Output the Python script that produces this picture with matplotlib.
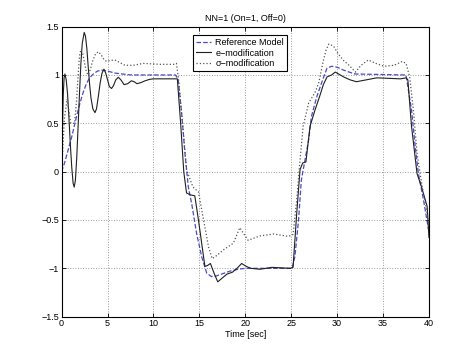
import numpy as np
import matplotlib
matplotlib.use("Agg")
from matplotlib import pyplot as plt

# reference model (blue dashed)
ref_t = [0, 0.35, 0.7, 1.1, 1.45, 1.75, 2.0, 2.35, 2.7, 3.05, 3.45, 3.9, 4.36, 5.0, 5.8, 6.6, 7.6, 12.4,
         12.7, 13.07, 13.43, 13.8, 14.16, 14.7, 15.25, 15.8, 16.3, 16.8, 17.4, 18.3, 19.2, 20.0, 25.1,
         25.4, 25.8, 26.1, 26.5, 26.9, 27.2, 27.8, 28.5, 28.9, 29.4, 30.0, 30.7, 31.3, 31.95, 37.5,
         38.1, 38.5, 38.85, 39.4, 39.9, 40.0]
ref_y = [0, 0.1, 0.22, 0.36, 0.5, 0.62, 0.71, 0.82, 0.91, 0.97, 1.01, 1.04, 1.05, 1.04, 1.02, 1.01, 1.0, 1.0,
         0.95, 0.6, 0.19, -0.16, -0.33, -0.64, -0.88, -1.05, -1.085, -1.08, -1.06, -1.03, -1.01, -1.0, -1.0,
         -0.88, -0.5, -0.09, 0.12, 0.33, 0.57, 0.78, 0.97, 1.07, 1.09, 1.08, 1.05, 1.03, 1.01, 1.0,
         0.64, 0.26, -0.02, -0.29, -0.57, -0.63]

# e-modification (black solid)
e_t = [0, 0.08, 0.18, 0.27, 0.36, 0.5, 0.65, 0.8, 0.95, 1.1, 1.25, 1.37, 1.5, 1.65, 1.8, 1.95,
       2.1, 2.25, 2.46, 2.6, 2.75, 2.9, 3.05, 3.2, 3.4, 3.63, 3.8, 4.0, 4.2, 4.4, 4.61, 4.8,
       5.0, 5.2, 5.44, 5.65, 5.9, 6.17, 6.45, 6.8, 7.2, 7.6, 7.9, 8.2, 8.6, 9.1, 9.6, 10.0, 12.6,
       12.96, 13.3, 13.6, 14.0, 14.5, 14.9, 15.6, 15.9, 16.2, 16.6, 17.0, 17.5, 18.0, 18.6,
       19.1, 19.6, 20.1, 20.6, 21.6, 22.9, 24.9, 25.2,
       25.6, 25.96, 26.25, 26.6, 27.05, 27.6, 28.1, 28.5, 28.9, 29.4, 29.8, 30.7, 31.4, 32.1,
       33.2, 34.3, 36.9, 37.5, 37.7, 38.1, 38.7, 39.2, 39.8, 40.0]
e_y = [0, 0.4, 0.8, 0.97, 1.01, 0.95, 0.8, 0.55, 0.28, 0.05, -0.12, -0.16, -0.09, 0.15, 0.48, 0.82,
       1.12, 1.33, 1.44, 1.40, 1.27, 1.08, 0.9, 0.76, 0.65, 0.61, 0.65, 0.78, 0.92, 1.02, 1.06, 1.02,
       0.95, 0.88, 0.86, 0.89, 0.95, 0.976, 0.95, 0.90, 0.91, 0.94, 0.93, 0.91, 0.92, 0.94, 0.955, 0.96, 0.96,
       0.5, 0.0, -0.22, -0.24, -0.25, -0.5, -0.98, -0.97, -0.95, -1.05, -1.14, -1.1, -1.06, -1.04,
       -1.0, -0.95, -0.98, -1.0, -1.01, -0.99, -1.0, -0.99,
       -0.43, 0.02, 0.09, 0.10, 0.47, 0.64, 0.78, 0.9, 0.98, 1.0, 1.03, 0.98, 0.95, 0.93,
       0.95, 0.97, 0.96, 0.97, 0.95, 0.47, -0.02, -0.16, -0.36, -0.68]

# sigma-modification (gray dotted)
s_t = [0, 0.3, 0.6, 1.0, 1.4, 1.6, 1.8, 1.95, 2.1, 2.3, 2.5, 2.7, 2.9, 3.1, 3.4, 3.7, 4.0,
       4.3, 4.6, 4.9, 5.3, 5.8, 6.3, 6.9, 7.8, 8.9, 10.7, 12.2, 12.5,
       12.7, 13.2, 13.6, 14.3, 14.9, 15.4, 16.0, 16.4, 17.0, 17.6, 18.7,
       19.4, 20.3, 21.6, 23.1, 24.7, 25.2,
       25.6, 25.96, 26.3, 26.9, 27.6, 28.0, 28.5, 28.8, 29.1, 29.6, 30.1, 30.7, 31.3, 32.0, 32.6,
       33.4, 34.2, 35.1, 36.2, 37.1, 37.5, 37.9, 38.3, 38.7, 39.2, 39.8, 40.0]
s_y = [0, 0.55, 0.75, 0.5, 0.5, 0.7, 1.0, 1.2, 1.26, 1.22, 1.12, 1.03, 1.0, 1.05, 1.15, 1.22, 1.24,
       1.21, 1.16, 1.14, 1.15, 1.155, 1.13, 1.10, 1.10, 1.12, 1.11, 1.11, 1.12,
       0.98, 0.47, 0.02, -0.16, -0.21, -0.47, -0.78, -0.9, -0.86, -0.81, -0.74,
       -0.58, -0.71, -0.665, -0.645, -0.67, -0.65,
       -0.29, 0.12, 0.47, 0.71, 0.82, 0.92, 1.15, 1.26, 1.32, 1.3, 1.22, 1.15, 1.1, 1.03, 1.1,
       1.155, 1.12, 1.09, 1.10, 1.14, 1.12, 0.98, 0.64, 0.19, -0.12, -0.43, -0.55]

x_ticks = [0, 5, 10, 15, 20, 25, 30, 35, 40]
y_ticks = [-1.5, -1, -0.5, 0, 0.5, 1, 1.5]

plt.rcParams['font.family'] = ['Liberation Sans', 'DejaVu Sans']
plt.rcParams['font.size'] = 6.5

fig = plt.figure(figsize=(4.74, 3.55), dpi=100)
ax = fig.add_axes([0.13, 0.108, 0.775, 0.817])

ax.plot(ref_t, ref_y, '--', color='#4a4ac8', lw=0.9, label='Reference Model')
ax.plot(e_t, e_y, '-', color='#202020', lw=0.8, label='e\u2212modification')
ax.plot(s_t, s_y, ':', color='#555555', lw=0.9, label='\u03c3\u2212modification')

ax.set_xlim(0, 40)
ax.set_ylim(-1.5, 1.5)
ax.set_xticks(x_ticks)
ax.set_yticks(y_ticks)
ax.set_yticklabels([str(v).replace('-', '\u2212') for v in y_ticks])
ax.tick_params(direction='in', top=True, right=True, length=3, width=0.6, pad=2)
ax.grid(True, linestyle=':', color='#999999', lw=0.7)
for sp in ax.spines.values():
    sp.set_linewidth(0.8)

ax.set_title('NN=1 (On=1, Off=0)', fontsize=6.5, pad=4)
ax.set_xlabel('Time [sec]', fontsize=6.5, labelpad=1)

leg = ax.legend(loc='upper left', bbox_to_anchor=(0.345, 0.985), fancybox=False,
                edgecolor='black', framealpha=1, fontsize=6.5, handlelength=1.7,
                borderpad=0.3, labelspacing=0.15, handletextpad=0.5)
leg.get_frame().set_linewidth(0.8)

fig.savefig('out.png', dpi=100)
